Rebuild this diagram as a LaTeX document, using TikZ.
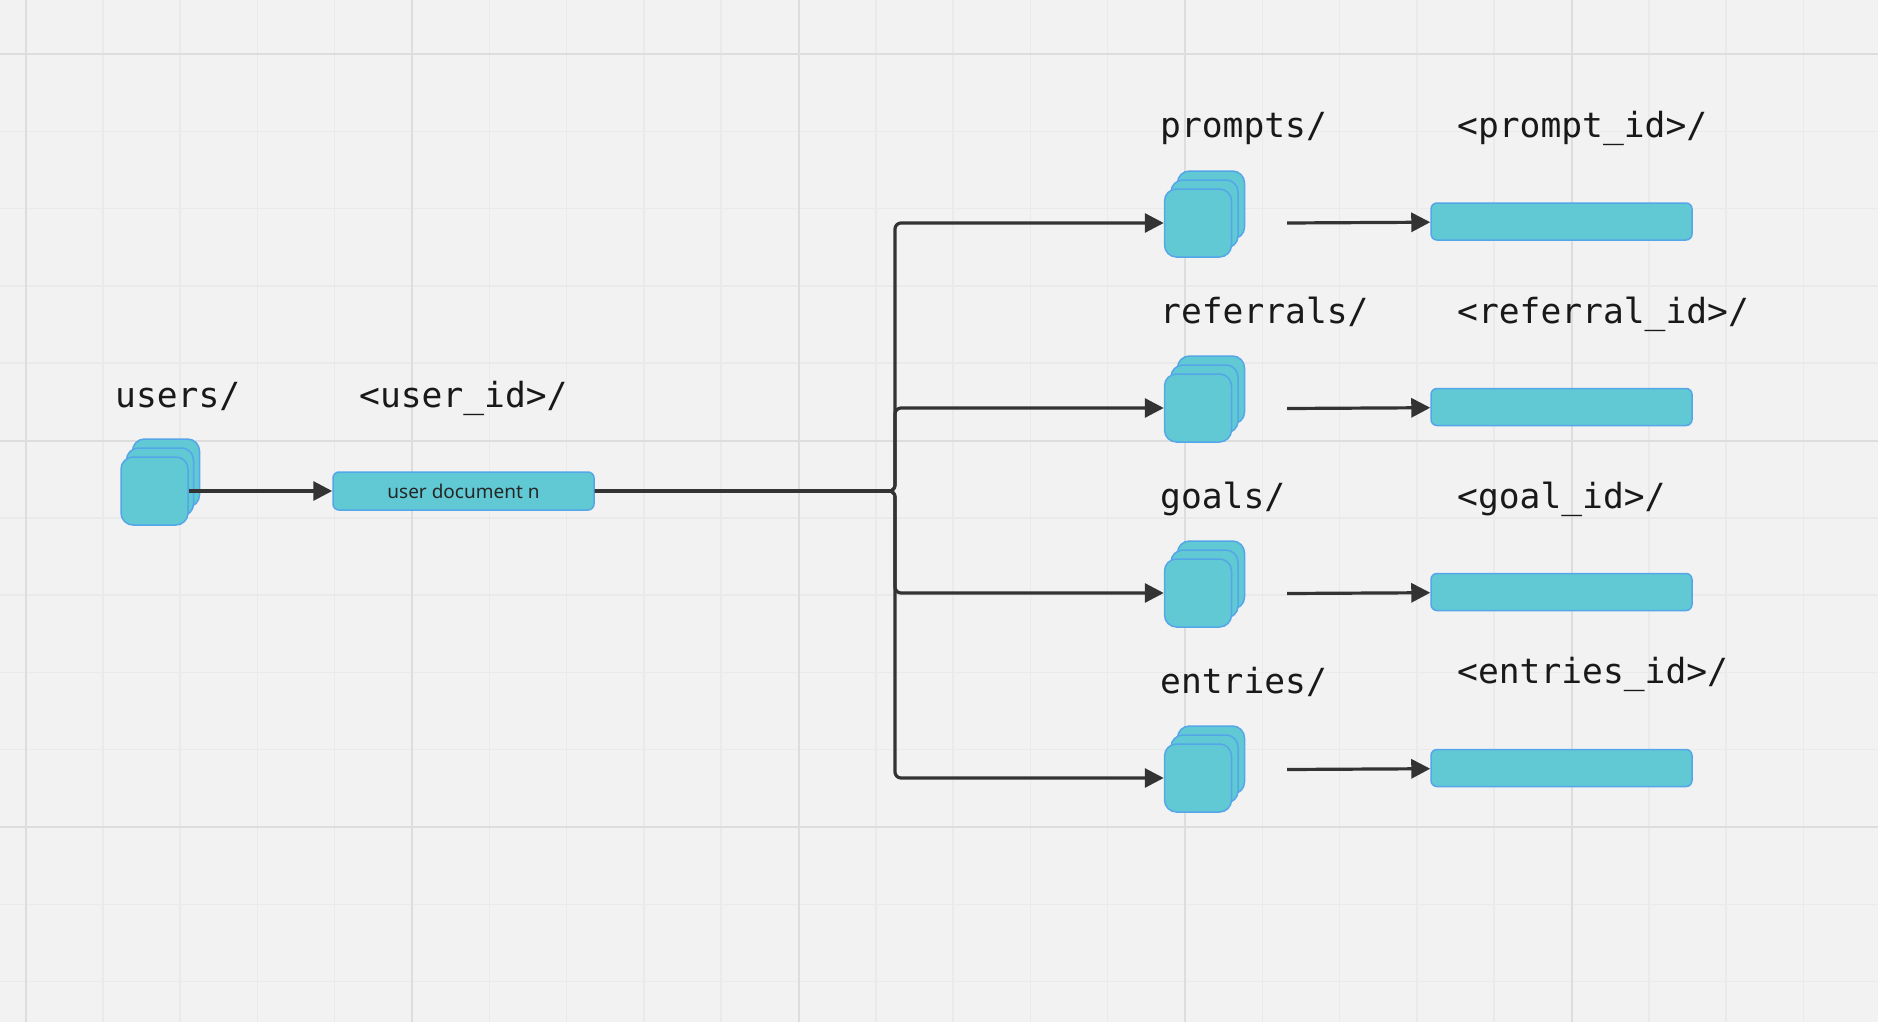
\documentclass[tikz,border=0pt]{standalone}
\usepackage{fontspec}
\setmonofont{DejaVu Sans Mono}
\setsansfont{Noto Sans}
\usetikzlibrary{arrows.meta}
\definecolor{paper}{HTML}{F2F2F2}
\definecolor{gridminor}{HTML}{EAEAEA}
\definecolor{gridmajor}{HTML}{DDDDDD}
\definecolor{docfill}{HTML}{60C9D4}
\definecolor{docline}{HTML}{55A6E8}
\definecolor{wirecol}{HTML}{333333}
\tikzset{
  doc/.style={draw=docline, fill=docfill, line width=1.5pt, rounded corners=6pt, inner sep=0pt},
  sheet/.style={doc, minimum width=67pt, minimum height=68pt, rounded corners=12pt},
  record/.style={doc, minimum width=261pt, minimum height=37pt},
  path label/.style={anchor=base west, inner sep=0pt, text=black!90, font=\ttfamily\fontsize{34.6}{40}\selectfont},
  wire/.style={draw=wirecol, line width=3.2pt, -{Triangle[length=19pt,width=19pt]}, rounded corners=6pt},
}

\begin{document}
\begin{tikzpicture}[x=1pt,y=-1pt]
\useasboundingbox (0,0) rectangle (1878,1022);
\fill[paper] (0,0) rectangle (1878,1022);
% grid
\foreach \k in {0,...,23} {
 \draw[gridminor, line width=1.5pt] ({25.5+77.3*\k},0) --++(0,1022);
}
\foreach \k in {0,...,12} {
 \draw[gridminor, line width=1.5pt] (0,{54+77.3*\k}) --++(1878,0);
}
\foreach \k in {0,5,...,20} {
 \draw[gridmajor, line width=2pt] ({25.5+77.3*\k},0) --++(0,1022);
}
\foreach \k in {0,5,10} {
 \draw[gridmajor, line width=2pt] (0,{54+77.3*\k}) --++(1878,0);
}

% users collection
\node[sheet] (users-back) at (166,473) {};
\node[sheet] (users-mid) at (160,482) {};
\node[sheet] (users) at (154.5,491) {};
\node[path label] (users-label) at (115,407) {users/};
\node[path label] (userid-label) at (359,407) {<user\_id>/};
\node[record, minimum height=38pt, font=\sffamily\fontsize{19}{22}\selectfont, text=black!85] (userdoc) at (463.5,491) {user document n};
\draw[wire] (users) -- (userdoc);
\coordinate (fork) at (895,491);

% sub-collections
\foreach \dir/\idtxt/\ay/\ry/\lb/\ib in {prompts/prompt\_id/223/221.5/138/138, referrals/referral\_id/408/407/323/323, goals/goal\_id/593/592/508/508, entries/entries\_id/778/768/693/683} {
 \node[sheet] (\dir-back) at (1211,\ay-18) {};
 \node[sheet] (\dir-mid) at (1204.5,\ay-9) {};
 \node[sheet] (\dir) at (1198,\ay) {};
 \node[path label] (\dir-label) at (1160,\lb) {\dir/};
 \node[path label] (\dir-idlabel) at (1457,\ib) {<\idtxt>/};
 \draw[wire] (userdoc) -- (fork) |- (\dir);
 \coordinate (\dir-out) at (1287,\ry+1.5);
 \node[record] (\dir-doc) at (1561.5,\ry) {};
 \draw[wire] (\dir-out) -- (\dir-doc);
}
\end{tikzpicture}
\end{document}
